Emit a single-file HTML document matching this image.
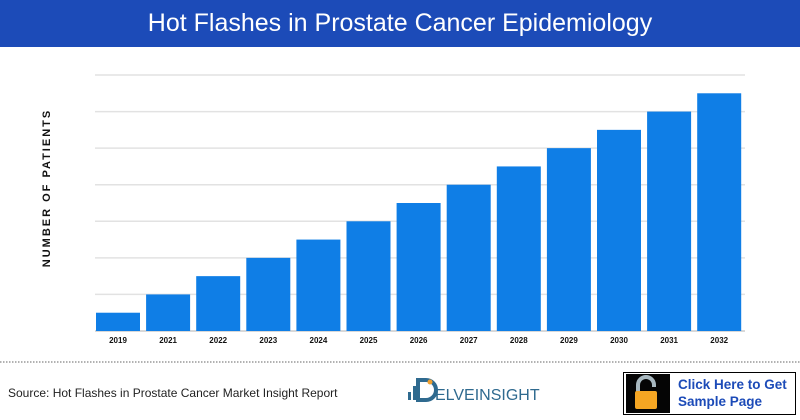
<!DOCTYPE html>
<html><head><meta charset="utf-8"><style>
body{margin:0;width:800px;height:420px;overflow:hidden;background:#fff;font-family:"Liberation Sans",sans-serif;}
#hdr{position:absolute;left:0;top:0;width:800px;height:47px;background:#1c4bb8;color:#fff;font-size:25px;text-align:center;line-height:47px;}
</style></head><body>
<div id="hdr">Hot Flashes in Prostate Cancer Epidemiology</div>
<svg id="chart" width="800" height="420" style="position:absolute;left:0;top:0">
<text x="50" y="188" transform="rotate(-90 50 188)" text-anchor="middle" font-size="11" font-weight="bold" letter-spacing="2" fill="#111">NUMBER OF PATIENTS</text>
<g id="grid"></g><g id="bars"></g><g id="xlabels"></g>
<line x1="0" y1="362" x2="800" y2="362" stroke="#666" stroke-dasharray="1.5 1.5"/>
<text x="8" y="397" font-size="12" fill="#222">Source: Hot Flashes in Prostate Cancer Market Insight Report</text>
<g>
<rect x="408" y="392" width="3" height="8" fill="#2f6a8f"/><rect x="413" y="386" width="3" height="14" fill="#2f6a8f"/>
<path d="M418 380 h8 a10 10 0 0 1 0 20 h-8 z" fill="none" stroke="#2f6a8f" stroke-width="4"/>
<circle cx="430" cy="382" r="2.5" fill="#f0a030"/>
<text x="435" y="400" font-size="16" fill="#2f6a8f">ELVEINSIGHT</text>
</g>
<g>
<rect x="623.5" y="372.5" width="172" height="42" fill="#fff" stroke="#000"/>
<rect x="626" y="374" width="44" height="39" fill="#050505"/>
<path d="M638 392 v-7 a8 8 0 0 1 16 0 v2" fill="none" stroke="#a8b8c0" stroke-width="4"/>
<rect x="635" y="391" width="22" height="18" rx="2" fill="#f5a623"/>
<text x="678" y="389" font-size="13.5" font-weight="bold" fill="#1c4bb8">Click Here to Get</text>
<text x="678" y="406" font-size="13.5" font-weight="bold" fill="#1c4bb8">Sample Page</text>
</g>
</svg>
<script>
const years=["2019","2021","2022","2023","2024","2025","2026","2027","2028","2029","2030","2031","2032"];
const values=[1,2,3,4,5,6,7,8,9,10,11,12,13];
const gridTicks=[0,2,4,6,8,10,12,14];
const NS="http://www.w3.org/2000/svg";
const x0=95,pitch=50.1,bw=44,base=331,yMax=14,plotH=256;
const y=v=>base-v/yMax*plotH;
const g=document.getElementById('grid'),b=document.getElementById('bars'),xl=document.getElementById('xlabels');
gridTicks.forEach(t=>{const l=document.createElementNS(NS,'line');
l.setAttribute('x1',95);l.setAttribute('x2',745);l.setAttribute('y1',y(t));l.setAttribute('y2',y(t));
l.setAttribute('stroke',t===0?'#ccc':'#e2e2e2');l.setAttribute('stroke-width',1.5);


g.appendChild(l);});
years.forEach((yr,i)=>{const r=document.createElementNS(NS,'rect');
const x=x0+1+i*pitch;
r.setAttribute('x',x);r.setAttribute('width',bw);r.setAttribute('y',y(values[i]));r.setAttribute('height',base-y(values[i]));
r.setAttribute('fill','#0f7ee6');


b.appendChild(r);
const t=document.createElementNS(NS,'text');
t.setAttribute('x',x+bw/2);t.setAttribute('y',343);t.setAttribute('text-anchor','middle');
t.setAttribute('font-size','8');t.setAttribute('font-weight','bold');t.setAttribute('fill','#111');
t.textContent=yr;


xl.appendChild(t);});
</script>
</body></html>
